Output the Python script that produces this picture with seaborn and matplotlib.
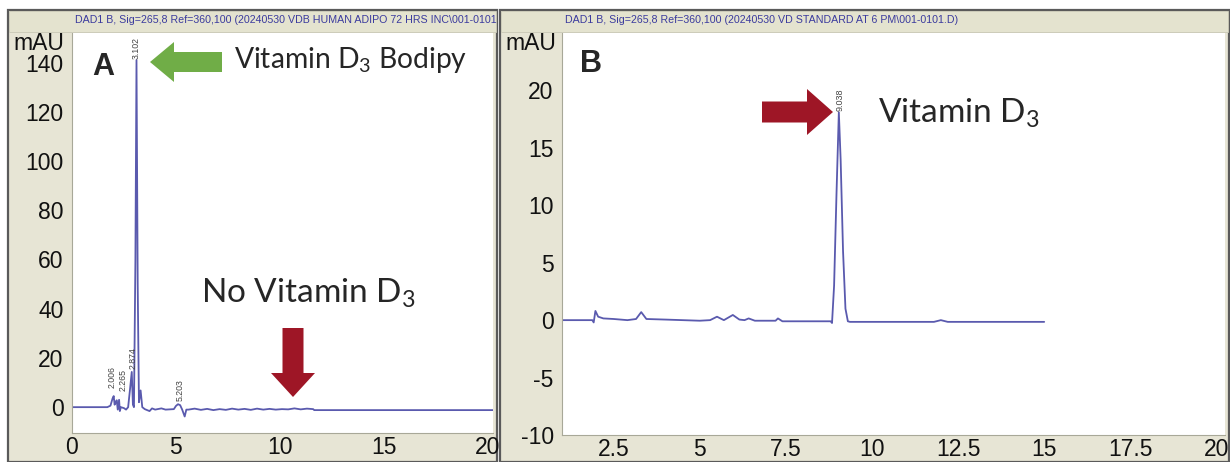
import matplotlib
matplotlib.use("Agg")
import matplotlib.pyplot as plt
import seaborn as sns
from matplotlib.patches import Rectangle, FancyArrow
from matplotlib.transforms import Affine2D
from matplotlib.ticker import MultipleLocator

# ---------------- data ----------------
A_time = [0.0, 1.70, 1.85, 1.95, 2.006, 2.05, 2.10, 2.15, 2.20, 2.265, 2.30, 2.35,
          2.50, 2.60, 2.70, 2.80, 2.874, 2.93, 2.98, 3.05, 3.102, 3.16, 3.22, 3.30,
          3.38, 3.50, 3.73, 3.85, 4.00, 4.30, 4.50, 4.90, 5.00, 5.10, 5.203, 5.30,
          5.42, 5.50, 5.60, 5.90, 6.20, 6.50, 6.80, 7.10, 7.40, 7.70, 8.00, 8.30,
          8.60, 8.90, 9.20, 9.50, 9.80, 10.10, 10.40, 10.70, 11.00, 11.30, 11.60,
          11.65, 20.3]
A_mau = [0.0, 0.0, 0.6, 3.5, 4.5, 1.0, 2.0, 2.8, -1.0, 3.0, -1.6, 0.0,
         -0.4, -1.0, 0.0, 8.0, 14.3, 1.0, 0.0, 60.0, 141.0, 50.0, 2.0, 6.8,
         0.0, -0.8, -1.6, -0.5, -1.0, -0.5, -1.0, -0.8, 0.5, 1.2, 0.8, -1.0,
         -3.8, -1.0, -1.0, -0.6, -1.1, -0.7, -1.2, -0.8, -1.1, -0.6, -1.0, -0.7,
         -1.1, -0.6, -1.0, -0.7, -1.0, -0.8, -0.9, -0.5, -0.9, -0.6, -0.8,
         -1.2, -1.2]
A_peak_rt = [2.006, 2.265, 2.874, 3.102, 5.203]
A_peak_top = [4.5, 3.0, 14.3, 141.0, 1.2]
A_peak_labels = ["2.006", "2.265", "2.874", "3.102", "5.203"]

B_time = [1.0, 1.88, 1.92, 1.97, 2.05, 2.20, 2.50, 2.90, 3.15, 3.30, 3.45, 4.00,
          4.50, 5.00, 5.30, 5.50, 5.70, 5.96, 6.15, 6.30, 6.42, 6.60, 7.20, 7.27,
          7.40, 8.80, 8.84, 8.90, 8.97, 9.038, 9.09, 9.16, 9.23, 9.30, 9.36,
          11.80, 12.00, 12.20, 15.0]
B_mau = [0.0, 0.0, -0.2, 0.8, 0.3, 0.15, 0.1, 0.0, 0.1, 0.7, 0.1, 0.05,
         0.0, -0.05, 0.0, 0.3, 0.0, 0.45, 0.05, 0.0, 0.15, -0.05, -0.05, 0.15,
         -0.1, -0.1, -0.25, 3.0, 11.0, 18.1, 14.0, 6.0, 1.0, -0.1, -0.15,
         -0.15, 0.0, -0.15, -0.15]
B_peak_rt = [9.038]
B_peak_top = [18.1]
B_peak_labels = ["9.038"]

A_xticks = [0, 5, 10, 15, 20]
A_yticks = [0, 20, 40, 60, 80, 100, 120, 140]
B_xticks = [2.5, 5, 7.5, 10, 12.5, 15, 17.5, 20]
B_xticklabels = ["2.5", "5", "7.5", "10", "12.5", "15", "17.5", "20"]
B_yticks = [-10, -5, 0, 5, 10, 15, 20]

A_header = "DAD1 B, Sig=265,8 Ref=360,100 (20240530 VDB HUMAN ADIPO 72 HRS INC\\001-0101"
B_header = "DAD1 B, Sig=265,8 Ref=360,100 (20240530 VD STANDARD AT 6 PM\\001-0101.D)"
unit_label = "mAU"
A_note = "Vitamin D$_3$ Bodipy"
A_note2 = "No Vitamin D$_3$"
B_note = "Vitamin D$_3$"

# ---------------- style ----------------
sns.set_style("white")
plt.rcParams["font.family"] = ["Liberation Sans", "DejaVu Sans"]
plt.rcParams["axes.unicode_minus"] = False
plt.rcParams["mathtext.fontset"] = "custom"
plt.rcParams["mathtext.rm"] = "Lato"
plt.rcParams["mathtext.it"] = "Lato:italic"
plt.rcParams["mathtext.bf"] = "Lato:bold"

W, H = 1230, 462
BEIGE = "#E7E5D5"
BAR = "#E4E3CF"
LINE = "#5A5AAE"
GREEN = "#70AD47"
RED = "#9E1626"
HEADER = "#3B3B9E"

fig = plt.figure(figsize=(W / 100, H / 100), dpi=100)
fig.patch.set_facecolor("white")
PX = Affine2D().scale(1, -1).translate(0, H)  # image pixel coords -> display


def fx(x):
    return x / W


def fy(y):
    return 1 - y / H


# panel backgrounds
for x0, x1 in [(8, 497), (500, 1229)]:
    fig.add_artist(Rectangle((x0, 10), x1 - x0, H - 10, transform=PX,
                             facecolor=BEIGE, edgecolor="#5a5a5a", lw=1.6, zorder=-2))
    fig.add_artist(Rectangle((x0 + 1, 11), x1 - x0 - 2, 21, transform=PX,
                             facecolor=BAR, edgecolor="#c9c8b6", lw=0.6, zorder=3))

fig.text(fx(75), fy(20), A_header, fontsize=7.7, color=HEADER, va="center", ha="left", zorder=4)
fig.text(fx(565), fy(20), B_header, fontsize=7.7, color=HEADER, va="center", ha="left", zorder=4)

axA = fig.add_axes([fx(72), fy(433), (493 - 72) / W, (433 - 33) / H])
axB = fig.add_axes([fx(562), fy(435), (1225 - 562) / W, (435 - 33) / H])

sns.lineplot(x=A_time, y=A_mau, ax=axA, color=LINE, lw=1.3, estimator=None, sort=False)
sns.lineplot(x=B_time, y=B_mau, ax=axB, color=LINE, lw=1.3, estimator=None, sort=False)

axA.set_xlim(0, 20.25)
axA.set_ylim(-10.5, 152)
axB.set_xlim(1.0, 20.25)
axB.set_ylim(-10, 25)

for ax in (axA, axB):
    ax.set_facecolor("white")
    for s in ("top", "right"):
        ax.spines[s].set_visible(False)
    for s in ("left", "bottom"):
        ax.spines[s].set_color("#a8a898")
        ax.spines[s].set_linewidth(0.8)
    ax.tick_params(which="major", direction="out", length=4, width=0.8, color="#a0a090",
                   labelsize=16.5, labelcolor="#111111", pad=2)
    ax.tick_params(which="minor", direction="out", length=2.5, width=0.6, color="#b0b0a0")
    ax.tick_params(axis="x", which="both", direction="in")
    ax.set_xlabel("")
    ax.set_ylabel("")
    ax.xaxis.set_minor_locator(MultipleLocator(0.5))

axA.set_xticks(A_xticks)
axA.set_yticks(A_yticks)
axA.yaxis.set_minor_locator(MultipleLocator(5))
axB.set_xticks(B_xticks)
axB.set_xticklabels(B_xticklabels)
axB.set_yticks(B_yticks)
axB.yaxis.set_minor_locator(MultipleLocator(1))

# peak retention-time labels (small per-label nudges in points)
A_nudge = [(-1, 6), (3, 6), (1, 2), (0, 1), (0, 2)]
for rt, top, lab, (dx, dy) in zip(A_peak_rt, A_peak_top, A_peak_labels, A_nudge):
    axA.annotate(lab, xy=(rt, top), xytext=(dx, dy), textcoords="offset points",
                 rotation=90, ha="center", va="bottom", fontsize=6.3,
                 color="#444444", annotation_clip=False, clip_on=True)
for rt, top, lab in zip(B_peak_rt, B_peak_top, B_peak_labels):
    axB.annotate(lab, xy=(rt, top), xytext=(1, 1), textcoords="offset points",
                 rotation=90, ha="center", va="bottom", fontsize=6.5,
                 color="#444444", annotation_clip=False, clip_on=True)

# unit labels
fig.text(fx(64), fy(44), unit_label, fontsize=16.5, ha="right", va="center", color="#111111")
fig.text(fx(556), fy(44), unit_label, fontsize=16.5, ha="right", va="center", color="#111111")

# panel letters and notes
fig.text(fx(103), fy(67), "A", fontsize=22, fontweight="bold", ha="center", va="center")
fig.text(fx(591), fy(64), "B", fontsize=22, fontweight="bold", ha="center", va="center")
fig.text(fx(234), fy(68), A_note, fontsize=20.3, family="Lato", ha="left", va="baseline")
fig.text(fx(201), fy(303), A_note2, fontsize=24, family="Lato", ha="left", va="baseline")
fig.text(fx(878), fy(123), B_note, fontsize=24, family="Lato", ha="left", va="baseline")

# arrows
fig.add_artist(FancyArrow(222, 62, -72, 0, width=20, head_width=40, head_length=24,
                          length_includes_head=True, transform=PX, color=GREEN, lw=0, zorder=5))
fig.add_artist(FancyArrow(293, 328, 0, 69, width=21, head_width=44, head_length=24,
                          length_includes_head=True, transform=PX, color=RED, lw=0, zorder=5))
fig.add_artist(FancyArrow(762, 112, 71, 0, width=21, head_width=46, head_length=26,
                          length_includes_head=True, transform=PX, color=RED, lw=0, zorder=5))

fig.savefig("out.png", dpi=100, facecolor=fig.get_facecolor())
